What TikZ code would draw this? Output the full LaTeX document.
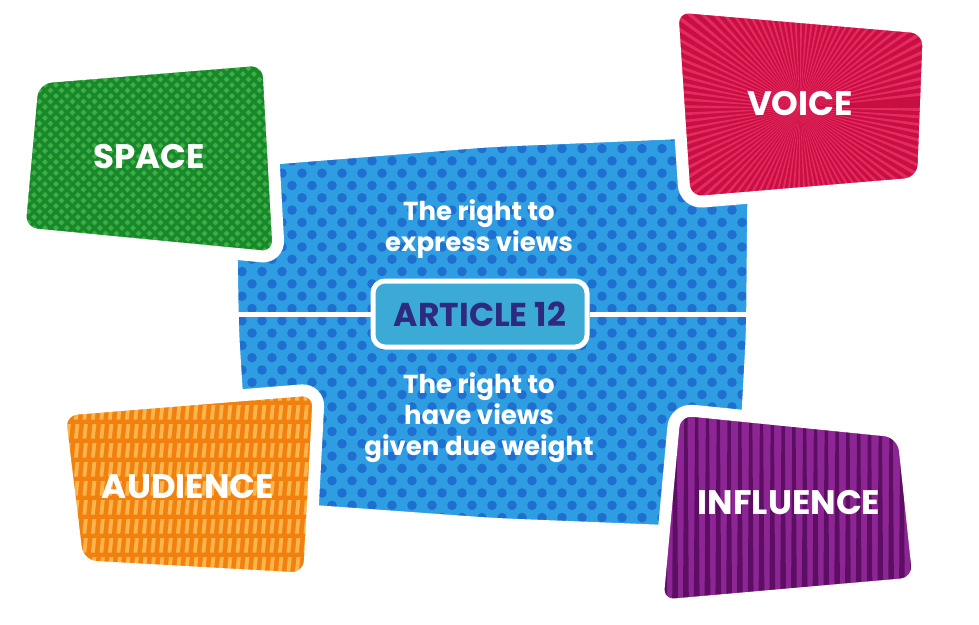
\documentclass[tikz,border=0pt]{standalone}
\usepackage{fontspec}
\setmainfont{Poppins}

\definecolor{panelblue}{HTML}{2F9DE2}
\definecolor{dotblue}{HTML}{1E6FCF}
\definecolor{spacegreen}{HTML}{17892A}
\definecolor{diamondgreen}{HTML}{3FAE45}
\definecolor{voicered}{HTML}{C70F41}
\definecolor{rayred}{HTML}{E52A62}
\definecolor{audorange}{HTML}{F2800F}
\definecolor{barorange}{HTML}{FBB54C}
\definecolor{inflpurple}{HTML}{8E2595}
\definecolor{stripepurple}{HTML}{5C0E63}
\definecolor{articleteal}{HTML}{3BAAD5}
\definecolor{articlenavy}{HTML}{2D2A80}

\begin{document}
\begin{tikzpicture}[x=1pt, y=-1pt,
  card edge/.style={draw=white, line width=12pt, rounded corners=18pt},
  card shadow/.style={fill=black, draw=black, opacity=0.07, rounded corners=18pt, shift={(1,9)}},
  card label/.style={text=white, font=\bfseries\fontsize{34}{34}\selectfont},
  view text/.style={text=white, align=center, font=\bfseries\fontsize{26}{31}\selectfont},
  article/.style={rounded corners=12pt, fill=articleteal, draw=white, line width=5pt,
    minimum width=214pt, minimum height=66pt, text=articlenavy,
    font=\bfseries\fontsize{33}{33}\selectfont}]

  \useasboundingbox (0,0) rectangle (979,624);

  % corners of the panel and the cards
  \coordinate (pa) at (230,162);  \coordinate (pab) at (492,141);
  \coordinate (pb) at (754,130);  \coordinate (pbc) at (752,332);
  \coordinate (pc) at (741,534);  \coordinate (pcd) at (494,524);
  \coordinate (pd) at (244,506);  \coordinate (pda) at (233,332);
  \coordinate (divl) at (232,314); \coordinate (divr) at (753,314);

  \coordinate (sa) at (33,78);   \coordinate (sb) at (268,59);
  \coordinate (sc) at (279,258); \coordinate (sd) at (19,233);

  \coordinate (va) at (672,6);   \coordinate (vb) at (929,28);
  \coordinate (vc) at (923,183); \coordinate (vd) at (685,203);
  \coordinate (vmid) at (800,108);

  \coordinate (aa) at (59,410);  \coordinate (ab) at (319,389);
  \coordinate (ac) at (309,579); \coordinate (ad) at (78,566);

  \coordinate (ia) at (675,409); \coordinate (ib) at (903,432);
  \coordinate (ic) at (919,583); \coordinate (id) at (657,606);

  % blue panel
  \foreach \w in {0,5,10}
    \path[card shadow, line width=\w] (pa) -- (pab) -- (pb) -- (pbc) -- (pc) -- (pcd) -- (pd) -- (pda) -- cycle;
  \fill[panelblue, rounded corners=18pt] (pa) -- (pab) -- (pb) -- (pbc) -- (pc) -- (pcd) -- (pd) -- (pda) -- cycle;
  \begin{scope}
    \clip[rounded corners=18pt] (pa) -- (pab) -- (pb) -- (pbc) -- (pc) -- (pcd) -- (pd) -- (pda) -- cycle;
    \foreach \j in {0,...,34}
      \foreach \i in {0,...,27}
        \fill[dotblue] ({222+\i*20+mod(\j,2)*10},{124+\j*12.3}) circle (4.8pt);
  \end{scope}
  \path[card edge] (pa) -- (pab) -- (pb) -- (pbc) -- (pc) -- (pcd) -- (pd) -- (pda) -- cycle;

  \node[article] (art) at (480,314) {ARTICLE 12};
  \draw[white, line width=5pt] (divl) -- (art.west);
  \draw[white, line width=5pt] (art.east) -- (divr);

  \node[view text] (express) at (479,229) {The right to\\express views};
  \node[view text] (weight) at (479,418) {The right to\\have views\\given due weight};

  % space
  \foreach \w in {0,5,10}
    \path[card shadow, line width=\w] (sa) -- (sb) -- (sc) -- (sd) -- cycle;
  \fill[spacegreen, rounded corners=18pt] (sa) -- (sb) -- (sc) -- (sd) -- cycle;
  \begin{scope}
    \clip[rounded corners=18pt] (sa) -- (sb) -- (sc) -- (sd) -- cycle;
    \foreach \j in {0,...,40}
      \foreach \i in {0,...,25}
        \fill[diamondgreen] ({12+\i*11+mod(\j,2)*5.5},{52+\j*5.5}) +(0,-2.8) -- +(2.8,0) -- +(0,2.8) -- +(-2.8,0) -- cycle;
  \end{scope}
  \path[card edge] (sa) -- (sb) -- (sc) -- (sd) -- cycle;
  \node[card label] (space) at (149,157) {SPACE};

  % voice
  \foreach \w in {0,5,10}
    \path[card shadow, line width=\w] (va) -- (vb) -- (vc) -- (vd) -- cycle;
  \fill[voicered, rounded corners=18pt] (va) -- (vb) -- (vc) -- (vd) -- cycle;
  \begin{scope}
    \clip[rounded corners=18pt] (va) -- (vb) -- (vc) -- (vd) -- cycle;
    \foreach \a in {0,3.6,...,356.4}
      \fill[rayred, shift={(vmid)}] (0,0) -- (\a:330) -- ({\a+1.4}:330) -- cycle;
  \end{scope}
  \path[card edge] (va) -- (vb) -- (vc) -- (vd) -- cycle;
  \node[card label] (voice) at (800,104) {VOICE};

  % audience
  \foreach \w in {0,5,10}
    \path[card shadow, line width=\w] (aa) -- (ab) -- (ac) -- (ad) -- cycle;
  \fill[audorange, rounded corners=18pt] (aa) -- (ab) -- (ac) -- (ad) -- cycle;
  \begin{scope}
    \clip[rounded corners=18pt] (aa) -- (ab) -- (ac) -- (ad) -- cycle;
    \foreach \j in {0,...,10}
      \foreach \i in {0,...,32}
        \fill[barorange] ({50+\i*8.5},{386+\j*19}) -- ++(3.8,0) -- ++(-1.5,14.5) -- ++(-3.8,0) -- cycle;
  \end{scope}
  \path[card edge] (aa) -- (ab) -- (ac) -- (ad) -- cycle;
  \node[card label] (audience) at (188,487) {AUDIENCE};

  % influence
  \foreach \w in {0,5,10}
    \path[card shadow, line width=\w] (ia) -- (ib) -- (ic) -- (id) -- cycle;
  \fill[inflpurple, rounded corners=18pt] (ia) -- (ib) -- (ic) -- (id) -- cycle;
  \begin{scope}
    \clip[rounded corners=18pt] (ia) -- (ib) -- (ic) -- (id) -- cycle;
    \foreach \i in {0,...,26}
      \fill[stripepurple] ({652+\i*10.8},400) -- ++(3,0) -- ++(1.5,215) -- ++(-6,0) -- cycle;
  \end{scope}
  \path[card edge] (ia) -- (ib) -- (ic) -- (id) -- cycle;
  \node[card label] (influence) at (789,503) {INFLUENCE};

\end{tikzpicture}
\end{document}
